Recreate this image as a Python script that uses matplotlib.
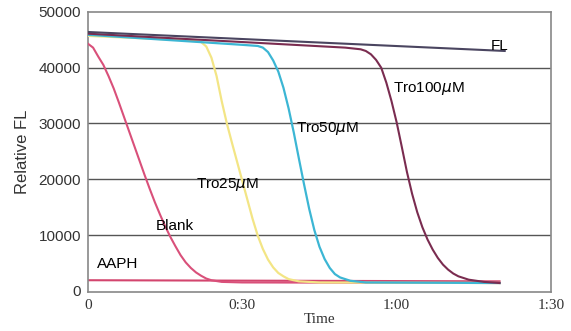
import matplotlib.pyplot as plt

# time in minutes, relative fluorescence
fl_t = [0, 81]
fl_v = [46400, 43000]

aaph_t = [0, 80]
aaph_v = [1900, 1700]

blank_t = [0, 1, 2, 3, 4, 5, 6, 7, 8, 9, 10, 11, 12, 13, 14, 15, 16, 17, 18, 19,
           20, 21, 22, 23, 24, 26, 30, 80]
blank_v = [44300, 43600, 42000, 40500, 38500, 36300, 33800, 31200, 28600, 26000,
           23400, 20800, 18300, 15900, 13700, 11600, 9700, 8000, 6400, 5100,
           4100, 3300, 2700, 2200, 1900, 1600, 1500, 1400]

tro25_t = [0, 10, 20, 22, 23, 24, 25, 26, 27, 28, 29, 30, 31, 32, 33, 34, 35, 36,
           37, 38, 39, 41, 45, 80]
tro25_v = [45700, 45300, 44900, 44600, 43800, 41800, 38500, 34000, 30000, 26500,
           23100, 19700, 16300, 12900, 9900, 7500, 5600, 4200, 3200, 2600, 2100,
           1700, 1500, 1400]

tro50_t = [0, 10, 20, 30, 33, 34, 35, 36, 37, 38, 39, 40, 41, 42, 43, 44, 45, 46,
           47, 48, 49, 51, 54, 80]
tro50_v = [45900, 45300, 44700, 44100, 43900, 43600, 42800, 41300, 39300, 36400,
           32700, 28400, 23700, 19100, 14700, 10900, 7900, 5700, 4100, 3000, 2400,
           1800, 1500, 1400]

tro100_t = [0, 20, 40, 50, 53, 54, 55, 56, 57, 58, 59, 60, 61, 62, 63, 64, 65, 66,
            67, 68, 69, 70, 71, 72, 74, 77, 80]
tro100_v = [46100, 45100, 44100, 43600, 43300, 43000, 42400, 41400, 40000, 37300,
            34000, 30200, 25800, 21300, 17400, 14100, 11400, 9200, 7400, 5900,
            4700, 3800, 3100, 2600, 2000, 1600, 1400]

x_ticks = [0, 30, 60, 90]
x_labels = ['0', '0:30', '1:00', '1:30']
y_ticks = [0, 10000, 20000, 30000, 40000, 50000]

fig = plt.figure(figsize=(5.71, 3.31), dpi=100)
ax = fig.add_axes([0.154, 0.118, 0.811, 0.846])

for y in y_ticks[1:-1]:
    ax.axhline(y, color='#555555', lw=1.0, zorder=1)

ax.plot(aaph_t, aaph_v, color='#d3456e', lw=1.5, zorder=2)
ax.plot(blank_t, blank_v, color='#d9507a', lw=1.5, zorder=3)
ax.plot(tro25_t, tro25_v, color='#f3e585', lw=1.6, zorder=3)
ax.plot(tro50_t, tro50_v, color='#3cb6d4', lw=1.6, zorder=4)
ax.plot(tro100_t, tro100_v, color='#7a2c50', lw=1.5, zorder=5)
ax.plot(fl_t, fl_v, color='#4a4560', lw=1.5, zorder=6)

lab = dict(fontsize=11, family='Liberation Sans', va='center', ha='left', zorder=7)
ax.text(78.2, 43900, 'FL', **lab)
ax.text(59.3, 36250, r'Tro100$\mu$M', **lab)
ax.text(40.4, 29100, r'Tro50$\mu$M', **lab)
ax.text(21.0, 19100, r'Tro25$\mu$M', **lab)
ax.text(13.2, 11600, 'Blank', **lab)
ax.text(1.7, 4800, 'AAPH', **lab)

ax.set_xlim(0, 90)
ax.set_ylim(-200, 50000)
ax.set_xticks(x_ticks)
ax.set_xticklabels(x_labels, family='Liberation Serif', fontsize=11, color='#333333')
ax.set_yticks(y_ticks)
ax.set_yticklabels([str(v) for v in y_ticks], family='Liberation Sans', fontsize=11,
                   color='#333333')
ax.tick_params(length=0, pad=5)
ax.set_xlabel('Time', family='Liberation Serif', fontsize=11, labelpad=1, color='#333333')
ax.set_ylabel('Relative FL', family='Liberation Sans', fontsize=12, labelpad=6,
              color='#333333')
for s in ax.spines.values():
    s.set_color('#888888')
    s.set_linewidth(1.2)

fig.savefig('out.png', dpi=100)
